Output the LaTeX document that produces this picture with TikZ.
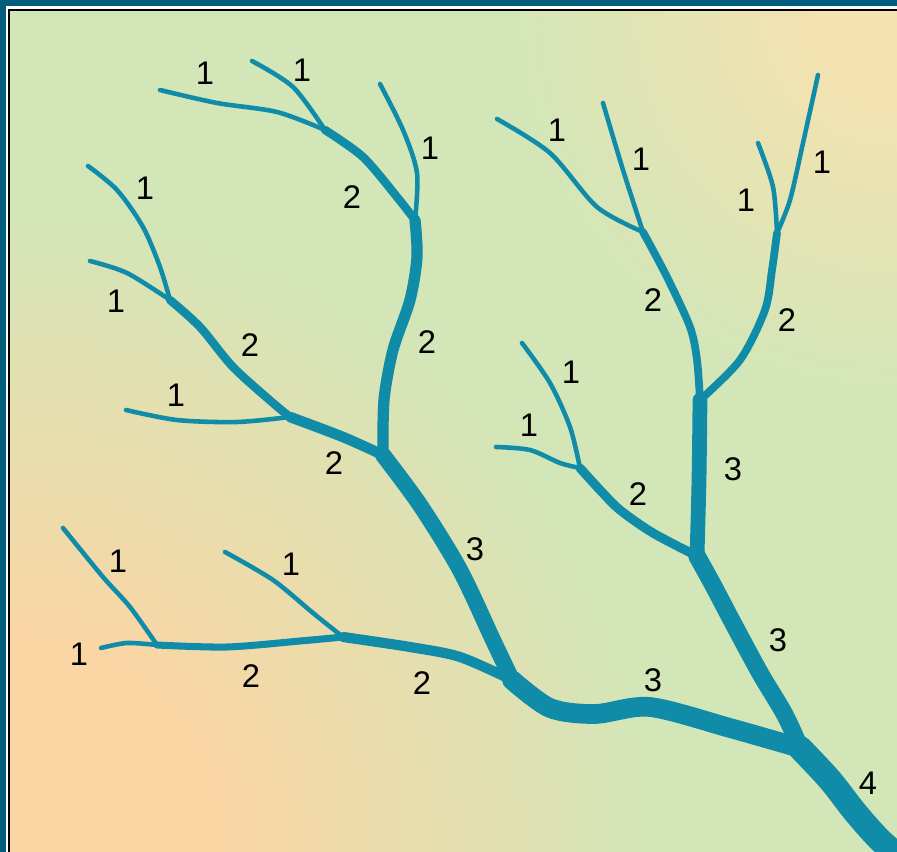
\documentclass[tikz,border=0pt]{standalone}
\usepackage{fontspec}
\setmainfont{Liberation Sans}
\usepackage{xcolor}
\definecolor{frameblue}{RGB}{0,94,124}
\definecolor{streamteal}{RGB}{16,140,168}
\definecolor{bggreen}{RGB}{210,230,184}
\definecolor{bgpeach}{RGB}{250,214,164}
\definecolor{bgyellow}{RGB}{244,226,176}
\pgfdeclareradialshading{peachglow}{\pgfpoint{0bp}{0bp}}{color(0bp)=(bgpeach); color(8bp)=(bgpeach); color(25bp)=(bggreen); color(50bp)=(bggreen)}
\pgfdeclareradialshading{yellowglow}{\pgfpoint{0bp}{0bp}}{color(0bp)=(bgyellow); color(5bp)=(bgyellow); color(25bp)=(bggreen); color(50bp)=(bggreen)}
\tikzset{
  stream/.style={draw=streamteal, line width=#1, line cap=round, line join=round},
  stream/.default=1.3pt,
  ordlabel/.style={inner sep=0pt, text=black, font=\fontsize{9.3}{11}\selectfont}
}

\begin{document}
\begin{tikzpicture}[x=0.01cm, y=-0.01cm]
  \useasboundingbox (0,0) rectangle (897,852);
  \fill[frameblue] (0,0) rectangle (897,852);
  \begin{scope}
    \clip (8,10) rectangle (897,852);
    \fill[bggreen] (8,10) rectangle (897,852);
    \shade[shading=peachglow] (8,852) circle (660);
    \shade[shading=yellowglow] (897,10) circle (400);
  \end{scope}
  \draw[white, line width=0.6pt] (7.5,852) -- (7.5,7.5) -- (897,7.5);
  \draw[black, line width=0.4pt] (9,852) -- (9,10) -- (897,10);

  \coordinate (J4)  at (800,748);
  \coordinate (J3a) at (512,680);
  \coordinate (J3b) at (697,556);
  \coordinate (J2a) at (383,455);
  \coordinate (J2b) at (415,220);
  \coordinate (J2c) at (700,400);
  \coordinate (J1a) at (325,130);
  \coordinate (J1b) at (643,232);
  \coordinate (J1c) at (777,233);
  \coordinate (J1d) at (170,300);
  \coordinate (J1e) at (580,468);
  \coordinate (J1f) at (290,417);
  \coordinate (J1g) at (157,645);
  \coordinate (J1h) at (343,637);
  \coordinate (mouth) at (910,866);

  \coordinate (s1)  at (160,90);
  \coordinate (s2)  at (252,61);
  \coordinate (s3)  at (380,84);
  \coordinate (s4)  at (88,166);
  \coordinate (s5)  at (90,261);
  \coordinate (s6)  at (126,410);
  \coordinate (s7)  at (63,528);
  \coordinate (s8)  at (101,648);
  \coordinate (s9)  at (225,552);
  \coordinate (s10) at (497,119);
  \coordinate (s11) at (603,103);
  \coordinate (s12) at (758,143);
  \coordinate (s13) at (818,75);
  \coordinate (s14) at (522,343);
  \coordinate (s15) at (496,447);

  % first order
  \draw[stream] plot[smooth] coordinates {(s1) (217,103) (277,112) (J1a)};
  \draw[stream] plot[smooth] coordinates {(s2) (293,87) (J1a)};
  \draw[stream] plot[smooth] coordinates {(s3) (403,130) (417,173) (J2b)};
  \draw[stream] plot[smooth] coordinates {(s4) (117,190) (143,227) (160,267) (J1d)};
  \draw[stream] plot[smooth] coordinates {(s5) (127,273) (J1d)};
  \draw[stream] plot[smooth] coordinates {(s6) (177,420) (237,422) (J1f)};
  \draw[stream] plot[smooth] coordinates {(s7) (103,577) (130,607) (J1g)};
  \draw[stream] plot[smooth] coordinates {(s8) (127,643) (J1g)};
  \draw[stream] plot[smooth] coordinates {(s9) (273,580) (313,613) (J1h)};
  \draw[stream] plot[smooth] coordinates {(s10) (550,153) (597,207) (J1b)};
  \draw[stream] plot[smooth] coordinates {(s11) (623,170) (J1b)};
  \draw[stream] plot[smooth] coordinates {(s12) (773,187) (J1c)};
  \draw[stream] plot[smooth] coordinates {(s13) (803,143) (790,200) (J1c)};
  \draw[stream] plot[smooth] coordinates {(s14) (550,383) (570,427) (J1e)};
  \draw[stream] plot[smooth] coordinates {(s15) (530,450) (560,463) (J1e)};

  % second order
  \draw[stream=2.4pt] plot[smooth] coordinates {(J1a) (363,157) (397,197) (J2b)};
  \draw[stream=3.2pt] plot[smooth] coordinates {(J2b) (417,257) (410,300) (393,350) (384,400) (J2a)};
  \draw[stream=2.4pt] plot[smooth] coordinates {(J1d) (200,327) (233,367) (273,403) (J1f)};
  \draw[stream=3pt] plot[smooth] coordinates {(J1f) (343,437) (J2a)};
  \draw[stream=2pt] plot[smooth] coordinates {(J1g) (227,647) (300,641) (J1h)};
  \draw[stream=2.9pt] plot[smooth] coordinates {(J1h) (410,647) (460,657) (J3a)};
  \draw[stream=2.2pt] plot[smooth] coordinates {(J1b) (667,277) (690,327) (697,360) (J2c)};
  \draw[stream=2.2pt] plot[smooth] coordinates {(J1c) (772,270) (765,310) (740,360) (J2c)};
  \draw[stream=2.6pt] plot[smooth] coordinates {(J1e) (600,490) (620,510) (653,533) (J3b)};

  % third and fourth order
  \draw[stream=4.6pt] plot[smooth] coordinates {(J2a) (420,505) (460,570) (493,640) (J3a)};
  \draw[stream=4.2pt] plot[smooth] coordinates {(J2c) (699,480) (J3b)};
  \draw[stream=5.6pt] plot[smooth] coordinates {(J3a) (550,708) (595,714) (650,707) (730,728) (J4)};
  \draw[stream=5pt] plot[smooth] coordinates {(J3b) (713,585) (733,623) (760,673) (785,715) (J4)};
  \draw[stream=7pt] plot[smooth] coordinates {(J4) (830,780) (855,812) (880,840) (mouth)};

  \foreach \x/\y/\t [count=\i] in {205/73/1, 302/70/1, 430/148/1, 352/197/2, 427/342/2,
      145/188/1, 116/301/1, 250/345/2, 176/395/1, 334/463/2, 475/549/3,
      118/561/1, 291/564/1, 79/654/1, 251/676/2, 422/683/2,
      653/680/3, 778/640/3, 868/783/4, 557/130/1, 641/159/1, 746/200/1,
      822/162/1, 653/300/2, 787/320/2, 571/372/1, 529/425/1, 638/494/2, 733/469/3}
    \node[ordlabel] (lab\i) at (\x,\y) {\t};
\end{tikzpicture}
\end{document}
